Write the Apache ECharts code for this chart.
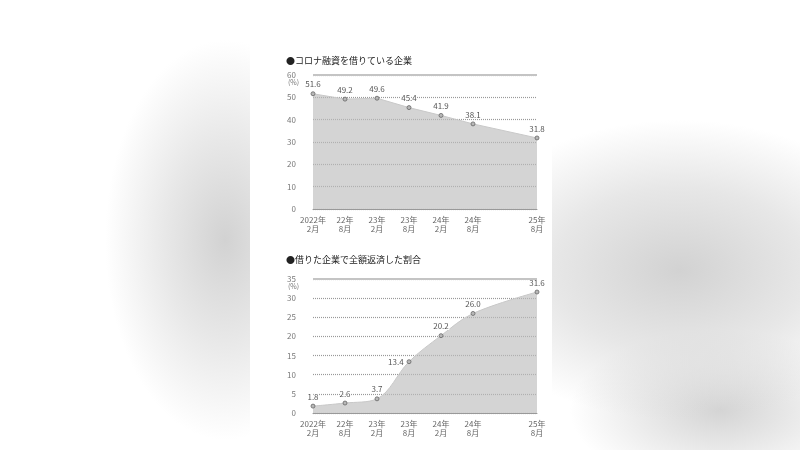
<!DOCTYPE html>
<html lang="ja">
<head>
<meta charset="UTF-8">
<title>コロナ融資</title>
<script src="https://cdn.jsdelivr.net/npm/echarts@6/dist/echarts.min.js"></script>
<style>
  html, body { margin: 0; padding: 0; }
  body {
    width: 800px; height: 450px; position: relative; overflow: hidden;
    background:
      radial-gradient(ellipse 120px 200px at 225px 240px, #d2d2d2 0%, rgba(222,222,222,0.7) 50%, rgba(255,255,255,0) 100%),
      radial-gradient(ellipse 230px 150px at 680px 270px, #d2d2d2 0%, rgba(215,215,215,0.6) 55%, rgba(255,255,255,0) 100%),
      radial-gradient(ellipse 150px 80px at 720px 410px, #d4d4d4 0%, rgba(255,255,255,0) 100%),
      #ffffff;
  }
  #panel { position: absolute; left: 250px; top: 0; width: 302px; height: 450px; background: #fff; }
  #main { position: absolute; left: 0; top: 0; width: 800px; height: 450px; }
</style>
</head>
<body>
<div id="panel"></div>
<div id="main"></div>
<script>
// 横軸（25年2月は無いので位置を一つ飛ばす）
var xPos = [0, 1, 2, 3, 4, 5, 7];
var xLabels = ['2022年\n2月', '22年\n8月', '23年\n2月', '23年\n8月', '24年\n2月', '24年\n8月', '25年\n8月'];

// コロナ融資を借りている企業（%）
var borrowing = [51.6, 49.2, 49.6, 45.4, 41.9, 38.1, 31.8];
// 借りた企業で全額返済した割合（%）
var repaid = [1.8, 2.6, 3.7, 13.4, 20.2, 26.0, 31.6];

var title1 = '●コロナ融資を借りている企業';
var title2 = '●借りた企業で全額返済した割合';

var font = '"Noto Sans CJK JP", sans-serif';
var chart = echarts.init(document.getElementById('main'), null, { renderer: 'canvas' });

// leftIdx: ラベルを点の左に置くデータ番号
function toPoints(vals, leftIdx) {
  return vals.map(function (v, i) {
    var item = { value: [xPos[i], v] };
    if (i === leftIdx) item.label = { position: 'left' };
    return item;
  });
}

function xAxisOf(idx) {
  return {
    gridIndex: idx, type: 'value', min: 0, max: 7, interval: 1,
    axisLine: { show: true, lineStyle: { color: '#999', width: 1 } },
    axisTick: { show: false },
    splitLine: { show: false },
    axisLabel: {
      fontFamily: font, fontSize: 8, color: '#666', lineHeight: 9, margin: 6,
      formatter: function (v) {
        var i = xPos.indexOf(v);
        return i >= 0 ? xLabels[i] : '';
      }
    }
  };
}

function yAxisOf(idx, max, step) {
  return {
    gridIndex: idx, type: 'value', min: 0, max: max, interval: step,
    axisLine: { show: false }, axisTick: { show: false },
    axisLabel: { fontFamily: font, fontSize: 8, color: '#777', margin: 17 },
    splitLine: { show: true, lineStyle: { color: '#999', type: [1, 1], width: 1.2 } }
  };
}

function seriesOf(idx, vals, max, smooth, leftIdx) {
  return {
    type: 'line', xAxisIndex: idx, yAxisIndex: idx,
    data: toPoints(vals, leftIdx), smooth: smooth,
    showSymbol: true, showAllSymbol: true,
    symbol: 'circle', symbolSize: 4,
    itemStyle: { color: '#b8b8b8', borderColor: '#666', borderWidth: 0.8 },
    lineStyle: { color: '#c8c8c8', width: 1 },
    areaStyle: { color: '#bdbdbd', opacity: 0.65 },
    label: {
      show: true, position: 'top', fontFamily: font, fontSize: 8, color: '#555',
      textBorderColor: '#fff', textBorderWidth: 2, distance: 3,
      formatter: function (p) { return p.value[1].toFixed(1); }
    },
    markLine: {
      silent: true, symbol: 'none', label: { show: false },
      lineStyle: { color: '#c4c4c4', type: 'solid', width: 2 },
      data: [{ yAxis: max }]
    },
    z: 3
  };
}

var option = {
  animation: false,
  backgroundColor: 'transparent',
  textStyle: { fontFamily: font },
  grid: [
    { left: 313, right: 263, top: 75, height: 134 },
    { left: 313, right: 263, top: 279, height: 134 }
  ],
  xAxis: [xAxisOf(0), xAxisOf(1)],
  yAxis: [yAxisOf(0, 60, 10), yAxisOf(1, 35, 5)],
  series: [
    seriesOf(0, borrowing, 60, false, -1),
    seriesOf(1, repaid, 35, 0.35, 3)
  ],
  graphic: [
    { type: 'text', left: 286, top: 56, style: { text: title1, font: '9px ' + font, fill: '#222' } },
    { type: 'text', left: 286, top: 255, style: { text: title2, font: '9px ' + font, fill: '#222' } },
    { type: 'text', left: 288, top: 79, style: { text: '(%)', font: '7px ' + font, fill: '#777' } },
    { type: 'text', left: 288, top: 283, style: { text: '(%)', font: '7px ' + font, fill: '#777' } }
  ]
};

chart.setOption(option);
</script>
</body>
</html>
